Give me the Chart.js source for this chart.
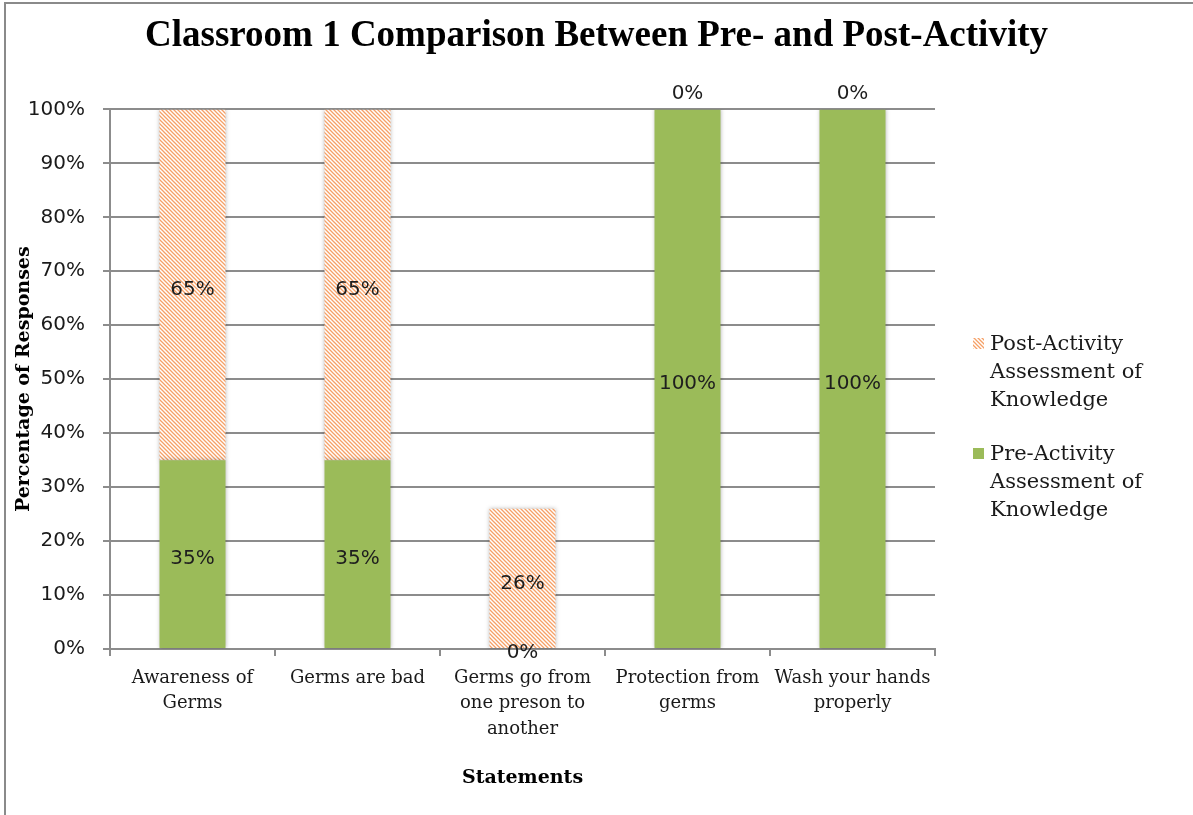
<!DOCTYPE html>
<html>
<head>
<meta charset="utf-8">
<title>Classroom 1 Comparison</title>
<script src="https://cdn.jsdelivr.net/npm/chart.js@4.4.1/dist/chart.umd.min.js"></script>
<style>
  html, body { margin: 0; padding: 0; background: #fff; }
  #wrap { position: relative; width: 1193px; height: 815px; }
</style>
</head>
<body>
<div id="wrap">
  <canvas id="bar-chart" width="1193" height="815"></canvas>
</div>
<script>
// statements asked about, before and after the activity
const statements = [
  ["Awareness of", "Germs"],
  "Germs are bad",
  ["Germs go from", "one preson to", "another"],
  ["Protection from", "germs"],
  ["Wash your hands", "properly"],
];
const preActivity = [35, 35, 0, 100, 100];
const postActivity = [65, 65, 26, 0, 0];
const yTickLabels = ["0%", "10%", "20%", "30%", "40%", "50%", "60%", "70%", "80%", "90%", "100%"];

const GREEN = "#9bbb59";
const ORANGE = "#f6a066";
const GRID = "#8c8c8c";
const SERIF = '"DejaVu Serif", serif';
const SANS = '"DejaVu Sans", sans-serif';

const ctx = document.getElementById("bar-chart").getContext("2d");

// diagonal orange hatch on white
function makeHatch(color) {
  const size = 4;
  const c = document.createElement("canvas");
  c.width = size;
  c.height = size;
  const g = c.getContext("2d");
  g.fillStyle = "#fff";
  g.fillRect(0, 0, size, size);
  g.strokeStyle = color;
  g.lineWidth = 1.3;
  g.beginPath();
  g.moveTo(-1, -1); g.lineTo(size + 1, size + 1);
  g.moveTo(-1, size - 1); g.lineTo(1, size + 1);
  g.moveTo(size - 1, -1); g.lineTo(size + 1, 1);
  g.stroke();
  return ctx.createPattern(c, "repeat");
}
const hatch = makeHatch(ORANGE);

// page frame (left and top edges only)
const frame = {
  id: "frame",
  beforeDraw(chart) {
    const c = chart.ctx;
    c.save();
    c.fillStyle = "#fff";
    c.fillRect(0, 0, chart.width, chart.height);
    c.strokeStyle = "#8a8a8a";
    c.lineWidth = 2;
    c.beginPath();
    c.moveTo(5, chart.height);
    c.lineTo(5, 3);
    c.lineTo(chart.width, 3);
    c.stroke();
    c.restore();
  },
};

// soft shadow under the bars
const barShadow = {
  id: "barShadow",
  beforeDatasetDraw(chart) {
    const c = chart.ctx;
    c.save();
    c.shadowColor = "rgba(0,0,0,0.28)";
    c.shadowBlur = 4;
    c.shadowOffsetX = 0;
    c.shadowOffsetY = 0;
  },
  afterDatasetDraw(chart) {
    chart.ctx.restore();
  },
};

// value labels on each bar segment
const barLabels = {
  id: "barLabels",
  afterDatasetsDraw(chart) {
    const c = chart.ctx;
    const last = chart.data.datasets.length - 1;
    c.save();
    c.font = "20px " + SANS;
    c.fillStyle = "#1e1e1e";
    c.textAlign = "center";
    c.textBaseline = "middle";
    chart.data.datasets.forEach((ds, i) => {
      chart.getDatasetMeta(i).data.forEach((bar, j) => {
        const v = ds.data[j];
        const { x, y, base } = bar.getProps(["x", "y", "base"], true);
        let ty = (y + base) / 2 + 5;
        if (v === 0) ty = i === last ? y - 16 : y + 4;
        c.fillText(v + "%", x, ty);
      });
    });
    c.restore();
  },
};

function wrapWords(c, text, maxWidth) {
  const words = text.split(" ");
  const lines = [];
  let line = "";
  words.forEach((w) => {
    const test = line ? line + " " + w : w;
    if (line && c.measureText(test).width > maxWidth) {
      lines.push(line);
      line = w;
    } else {
      line = test;
    }
  });
  if (line) lines.push(line);
  return lines;
}

// legend at the right, top series first
const sideLegend = {
  id: "sideLegend",
  afterDraw(chart) {
    const c = chart.ctx;
    const area = chart.chartArea;
    const boxX = area.right + 38;
    const textX = area.right + 55;
    const lineH = 28;
    let y = 345;
    c.save();
    c.font = "21px " + SERIF;
    c.textBaseline = "middle";
    c.textAlign = "left";
    const order = chart.data.datasets.map((d, i) => i).reverse();
    order.forEach((i) => {
      const ds = chart.data.datasets[i];
      c.fillStyle = ds.backgroundColor;
      c.fillRect(boxX, y - 7, 11, 11);
      c.fillStyle = "#1a1a1a";
      const lines = wrapWords(c, ds.label, 165);
      lines.forEach((ln, k) => c.fillText(ln, textX, y + k * lineH));
      y += lines.length * lineH + 26;
    });
    c.restore();
  },
};

new Chart(ctx, {
  type: "bar",
  data: {
    labels: statements,
    datasets: [
      {
        label: "Pre-Activity Assessment of Knowledge",
        data: preActivity,
        backgroundColor: GREEN,
        borderWidth: 0,
        barPercentage: 0.4,
        categoryPercentage: 1,
      },
      {
        label: "Post-Activity Assessment of Knowledge",
        data: postActivity,
        backgroundColor: hatch,
        borderWidth: 0,
        barPercentage: 0.4,
        categoryPercentage: 1,
      },
    ],
  },
  options: {
    responsive: false,
    animation: false,
    devicePixelRatio: 1,
    layout: { padding: 0 },
    plugins: {
      legend: { display: false },
      tooltip: { enabled: false },
      title: {
        display: true,
        text: "Classroom 1 Comparison Between Pre- and Post-Activity",
        color: "#000",
        font: { family: '"Liberation Serif", serif', size: 37, weight: "bold", lineHeight: 1.2 },
        padding: { top: 14, bottom: 51 },
      },
    },
    scales: {
      x: {
        stacked: true,
        afterFit(scale) { scale.height = 166; },
        grid: {
          drawOnChartArea: false,
          drawTicks: true,
          tickLength: 7,
          color: GRID,
          lineWidth: 2,
        },
        border: { display: true, color: GRID, width: 2 },
        ticks: {
          color: "#1a1a1a",
          padding: 10,
          maxRotation: 0,
          autoSkip: false,
          font: { family: SERIF, size: 18, lineHeight: 1.4 },
        },
        title: {
          display: true,
          text: "Statements",
          color: "#000",
          font: { family: SERIF, size: 19, weight: "bold", lineHeight: 1.2 },
          padding: { top: 0, bottom: 26 },
        },
      },
      y: {
        stacked: true,
        min: 0,
        max: 100,
        afterFit(scale) { scale.width = 110; },
        grid: {
          color: GRID,
          lineWidth: 2,
          drawTicks: true,
          tickLength: 7,
        },
        border: { display: true, color: GRID, width: 2 },
        ticks: {
          stepSize: 10,
          padding: 18,
          color: "#1a1a1a",
          font: { family: SANS, size: 20 },
          callback: (v, i) => yTickLabels[i],
        },
        title: {
          display: true,
          text: "Percentage of Responses",
          color: "#000",
          font: { family: SERIF, size: 19, weight: "bold", lineHeight: 1.2 },
          padding: { top: 13, bottom: 0 },
        },
      },
      // empty right-hand axis that reserves room for the legend
      legendSpace: {
        type: "linear",
        position: "right",
        display: true,
        afterFit(scale) { scale.width = 258; },
        grid: { display: false },
        border: { display: false },
        ticks: { display: false },
      },
    },
  },
  plugins: [frame, barShadow, barLabels, sideLegend],
});
</script>
</body>
</html>
